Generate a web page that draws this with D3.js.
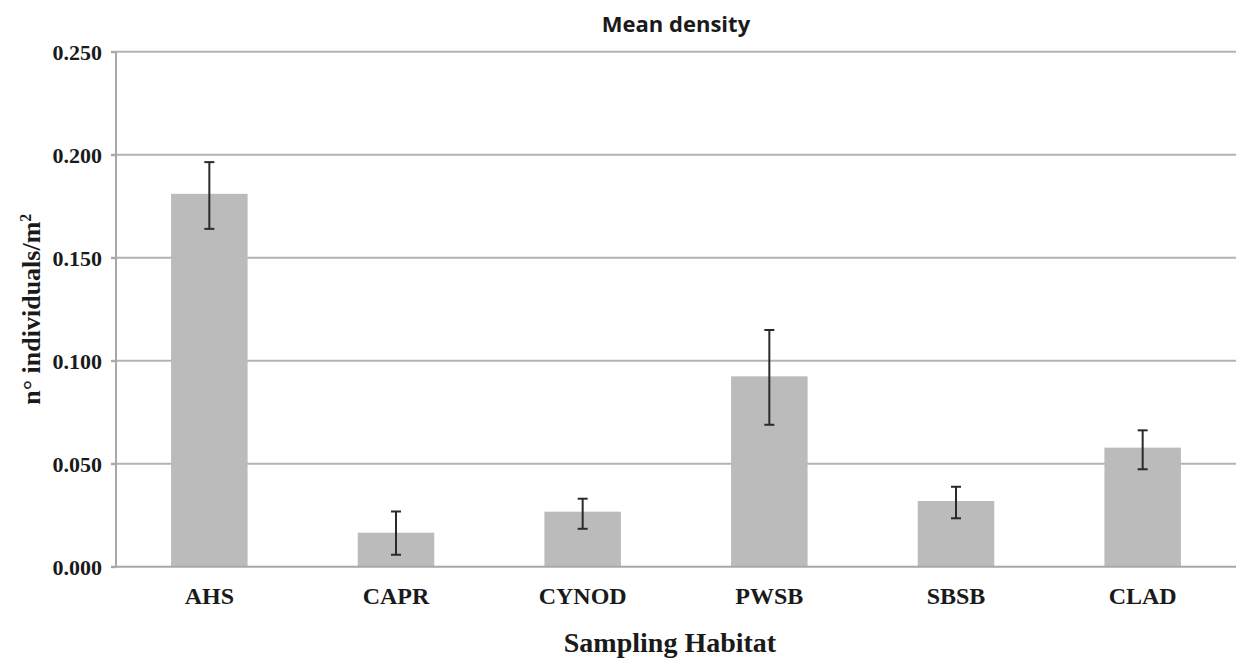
<!DOCTYPE html>
<html>
<head>
<meta charset="utf-8">
<script src="https://cdn.jsdelivr.net/npm/d3@7"></script>
<style>
  html, body { margin: 0; padding: 0; background: #fff; }
  svg { display: block; }
</style>
</head>
<body>
<svg id="chart" width="1236" height="659"></svg>
<script>
const categories = ["AHS", "CAPR", "CYNOD", "PWSB", "SBSB", "CLAD"];
const meanValues = [0.181, 0.0165, 0.0267, 0.0924, 0.0319, 0.0578];
const errorLow   = [0.164, 0.0058, 0.0184, 0.0689, 0.0235, 0.0473];
const errorHigh  = [0.1964, 0.0268, 0.0330, 0.1149, 0.0388, 0.0662];
const yTicks = [0, 0.05, 0.10, 0.15, 0.20, 0.25];

const svg = d3.select("#chart");
const pLeft = 116, pRight = 1236, pTop = 51.7, pBottom = 566.7;

const x = d3.scaleBand().domain(categories).range([pLeft, pRight]).paddingInner(0.59).paddingOuter(0.295);
const y = d3.scaleLinear().domain([0, 0.25]).range([pBottom, pTop]);

// gridlines
svg.append("g").selectAll("line").data(yTicks.filter(d => d > 0)).join("line")
  .attr("x1", pLeft - 5).attr("x2", pRight)
  .attr("y1", d => y(d)).attr("y2", d => y(d))
  .attr("stroke", "#b3b3b3").attr("stroke-width", 2);

// bars
svg.append("g").selectAll("rect").data(categories).join("rect")
  .attr("x", d => x(d))
  .attr("width", x.bandwidth())
  .attr("y", (d, i) => y(meanValues[i]))
  .attr("height", (d, i) => pBottom - y(meanValues[i]))
  .attr("fill", "#bbbbbb");

// axes
const yAxis = d3.axisLeft(y).tickValues(yTicks).tickSize(5).tickFormat(d3.format(".3f"));
const gy = svg.append("g").attr("transform", `translate(${pLeft},0)`).call(yAxis);
gy.select(".domain").attr("stroke", "#a8a8a8").attr("stroke-width", 2).attr("d", `M0,${pTop}V${pBottom}`);
gy.selectAll(".tick line").attr("stroke", "#a8a8a8").attr("stroke-width", 2);
gy.selectAll(".tick text")
  .attr("x", -14).attr("dy", "0.35em")
  .attr("font-family", "Liberation Serif, Times New Roman, serif")
  .attr("font-weight", "bold").attr("font-size", 22).attr("fill", "#1a1a1a");

const xAxis = d3.axisBottom(x).tickSize(0);
const gx = svg.append("g").attr("transform", `translate(0,${pBottom})`).call(xAxis);
gx.select(".domain").attr("stroke", "#a8a8a8").attr("stroke-width", 2).attr("d", `M${pLeft - 5},0H${pRight}`);
gx.selectAll(".tick text")
  .attr("y", 37.5).attr("dy", 0)
  .attr("font-family", "Liberation Serif, Times New Roman, serif")
  .attr("font-weight", "bold").attr("font-size", 24).attr("fill", "#1a1a1a");

// error bars
const eb = svg.append("g").attr("stroke", "#2a2a2a").attr("stroke-width", 2);
categories.forEach((c, i) => {
  const cx = x(c) + x.bandwidth() / 2;
  eb.append("line").attr("x1", cx).attr("x2", cx).attr("y1", y(errorLow[i])).attr("y2", y(errorHigh[i]));
  eb.append("line").attr("x1", cx - 5).attr("x2", cx + 5).attr("y1", y(errorLow[i])).attr("y2", y(errorLow[i]));
  eb.append("line").attr("x1", cx - 5).attr("x2", cx + 5).attr("y1", y(errorHigh[i])).attr("y2", y(errorHigh[i]));
});

// title
svg.append("text").attr("x", (pLeft + pRight) / 2).attr("y", 32)
  .attr("text-anchor", "middle")
  .attr("font-family", "'Open Sans', Lato, sans-serif").attr("font-weight", "bold")
  .attr("font-size", 22).attr("fill", "#1a1a1a").text("Mean density");

// x title
svg.append("text").attr("x", 670).attr("y", 652)
  .attr("text-anchor", "middle")
  .attr("font-family", "Liberation Serif, Times New Roman, serif").attr("font-weight", "bold")
  .attr("font-size", 28).attr("fill", "#1a1a1a").text("Sampling Habitat");

// y title
const yt = svg.append("text").attr("transform", `translate(40,${(pTop + pBottom) / 2}) rotate(-90)`)
  .attr("text-anchor", "middle")
  .attr("font-family", "Liberation Serif, Times New Roman, serif").attr("font-weight", "bold")
  .attr("font-size", 26).attr("fill", "#1a1a1a");
yt.append("tspan").text("n° individuals/m");
yt.append("tspan").attr("dy", -9).attr("font-size", 16).text("2");
</script>
</body>
</html>
